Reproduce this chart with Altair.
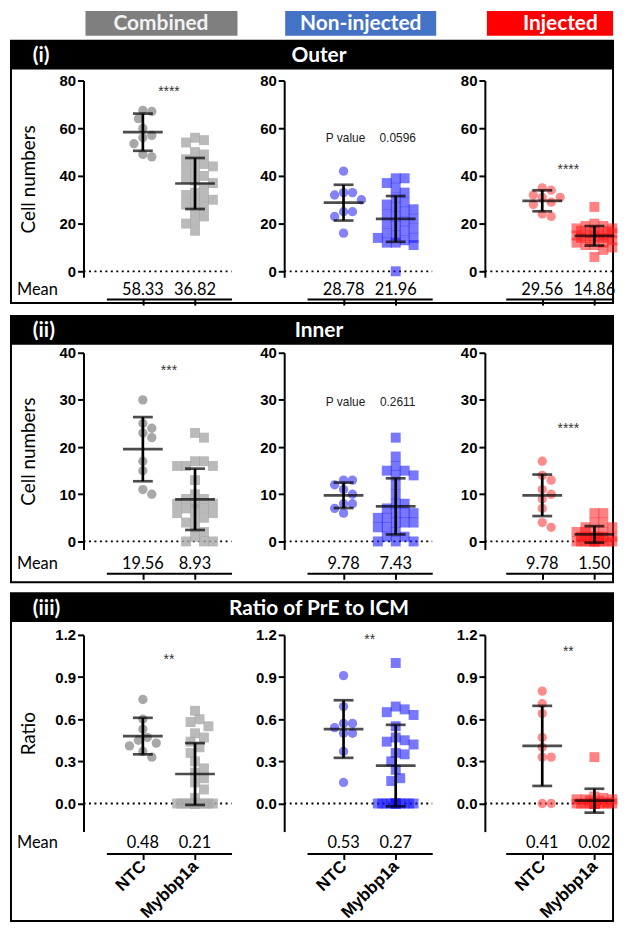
import math
import altair as alt
import pandas as pd

# ------------------------------------------------------------------ data
groups = ["NTC", "Mybbp1a"]
col_names = ["Combined", "Non-injected", "Injected"]
row_tags = ["(i)", "(ii)", "(iii)"]
row_titles = ["Outer", "Inner", "Ratio of PrE to ICM"]
y_titles = ["Cell numbers", "Cell numbers", "Ratio"]
y_ticks = [[0, 20, 40, 60, 80], [0, 10, 20, 30, 40], [0.0, 0.3, 0.6, 0.9, 1.2]]
y_domains = [[-2.5, 80], [-1.7, 40], [-0.2, 1.2]]

# Outer cells
outer_comb_ntc = [67.5, 67, 64, 60, 57, 56, 53.5, 48, 49]
outer_comb_myb = [56, 54, 55, 50, 49, 47, 46, 45, 44, 43, 42, 40, 39, 38, 37, 35,
                  33, 32, 31, 30, 29, 28, 27, 25, 23, 21, 20, 17]
outer_noninj_ntc = [42, 33, 33, 32, 30, 25, 25, 23, 16]
outer_noninj_myb = [39, 39, 37, 35, 33, 31, 29, 28, 27, 26, 25, 24, 23, 22, 21, 20,
                    19, 18, 17, 16, 15, 14, 14, 13, 12, 12, 11, 0]
outer_inj_ntc = [35, 34, 32, 31, 31, 29, 28, 24, 23]
outer_inj_myb = [27, 20, 19, 19, 18, 18, 17, 17, 17, 16, 16, 16, 15, 15, 15, 15,
                 14, 14, 14, 13, 13, 12, 12, 11, 11, 10, 9, 6]
# Inner cells
inner_comb_ntc = [30, 25, 24, 23, 22, 17, 15, 11, 10]
inner_comb_myb = [23, 22, 17, 17, 16, 16, 16, 13, 10, 9, 9, 8, 8, 8, 7, 7, 7, 6, 6,
                  5, 5, 4, 3, 2, 1, 0, 0, 0]
inner_noninj_ntc = [13, 13, 12, 11, 10, 8, 8, 7, 6]
inner_noninj_myb = [22, 18, 16, 15, 15, 14, 14, 12, 10, 8, 8, 7, 6, 6, 6, 5, 5, 4,
                    4, 4, 3, 3, 2, 1, 1, 0, 0, 0]
inner_inj_ntc = [17, 14, 13, 11, 10, 9, 7, 4, 3]
inner_inj_myb = [6, 6, 4, 4, 3, 3, 2, 2, 2, 2, 1, 1, 1, 1, 1, 1, 1, 0, 0, 0, 0, 0,
                 0, 0, 0, 0, 0, 0]
# Ratio of PrE to ICM
ratio_comb_ntc = [0.74, 0.6, 0.53, 0.47, 0.45, 0.43, 0.41, 0.37, 0.33]
ratio_comb_myb = [0.66, 0.6, 0.58, 0.55, 0.5, 0.47, 0.44, 0.4, 0.36, 0.3, 0.25,
                  0.22, 0.18, 0.15, 0.1, 0.04, 0, 0, 0, 0, 0, 0, 0, 0, 0, 0, 0, 0]
ratio_noninj_ntc = [0.91, 0.69, 0.57, 0.57, 0.54, 0.5, 0.5, 0.37, 0.15]
ratio_noninj_myb = [1.0, 0.69, 0.67, 0.65, 0.63, 0.55, 0.47, 0.45, 0.44, 0.42, 0.36,
                    0.35, 0.3, 0.24, 0.18, 0.16, 0, 0, 0, 0, 0, 0, 0, 0, 0, 0, 0, 0]
ratio_inj_ntc = [0.8, 0.71, 0.64, 0.47, 0.4, 0.33, 0.33, 0, 0]
ratio_inj_myb = [0.33, 0.05, 0.04, 0.03, 0.03, 0.03, 0.02, 0.02, 0.01, 0, 0, 0, 0,
                 0, 0, 0, 0, 0, 0, 0, 0, 0, 0, 0, 0, 0, 0, 0]

values = [
    [[outer_comb_ntc, outer_comb_myb], [outer_noninj_ntc, outer_noninj_myb],
     [outer_inj_ntc, outer_inj_myb]],
    [[inner_comb_ntc, inner_comb_myb], [inner_noninj_ntc, inner_noninj_myb],
     [inner_inj_ntc, inner_inj_myb]],
    [[ratio_comb_ntc, ratio_comb_myb], [ratio_noninj_ntc, ratio_noninj_myb],
     [ratio_inj_ntc, ratio_inj_myb]],
]

means = [[[58.33, 36.82], [28.78, 21.96], [29.56, 14.86]],
         [[19.56, 8.93], [9.78, 7.43], [9.78, 1.50]],
         [[0.48, 0.21], [0.53, 0.27], [0.41, 0.02]]]
sds = [[[7.8, 10.7], [7.5, 9.6], [4.4, 4.1]],
       [[6.8, 6.5], [2.7, 5.95], [4.4, 1.75]],
       [[0.13, 0.22], [0.205, 0.29], [0.285, 0.085]]]

# significance annotations: (kind, text, y-level in data units)
annots = [
    [("stars", "****", 75), ("p", "0.0596", 56), ("stars", "****", 42.5)],
    [("stars", "***", 36.2), ("p", "0.2611", 29.6), ("stars", "****", 23.8)],
    [("stars", "**", 1.02), ("stars", "**", 1.165), ("stars", "**", 1.08)],
]

# ------------------------------------------------------------------ styles
legend_fill = ["#7F7F7F", "#4472C4", "#FF0000"]
legend_text = ["#F2F2F2", "#FFFFFF", "#FFFFFF"]
pt_color = [["#A3A3A3", "#A9A9A9"], ["#4040F2", "#1515FF"], ["#FF4545", "#FF1A1A"]]
pt_opacity = [[0.95, 0.8], [0.65, 0.58], [0.62, 0.55]]

H = 198
PANEL_W = [149, 149, 129]
X_RNG = [[23, 149], [23, 149], [21, 129]]
PX_PER_X = 52.5
X_LEFT = -0.7

head_off = [40, 37, 42]
head_h = 29
border_bot = [224, 231, 288]
mean_y = [211, 213, 210]
xaxis_off = [22, 24, 22]
BL, BR = -73, 533
one = pd.DataFrame({"z": [0]})


def swarm(vals, ppu):
    """deterministic beeswarm offsets (pixels -> x units)"""
    D, step = 9.0, 4.5
    cands = [0.0]
    for k in range(1, 5):
        cands += [k * step, -k * step]
    order = sorted(range(len(vals)), key=lambda i: -vals[i])
    placed, offs = [], [0.0] * len(vals)
    for i in order:
        yp = vals[i] * ppu
        best, bestd = 0.0, -1.0
        for cnd in cands:
            dmin = min((math.hypot(cnd - px, yp - py) for px, py in placed), default=1e9)
            if dmin >= D:
                best = cnd
                break
            if dmin > bestd:
                bestd, best = dmin, cnd
        offs[i] = best
        placed.append((best, yp))
    return [o / PX_PER_X for o in offs]


def vrect(x1, x2, y1, y2, **mk):
    return alt.Chart(one).mark_rect(**mk).encode(
        x=alt.value(x1), x2=alt.value(x2), y=alt.value(y1), y2=alt.value(y2))


def vtext(t, x, y, **mk):
    return alt.Chart(pd.DataFrame({"t": [t]})).mark_text(**mk).encode(
        text="t:N", x=alt.value(x), y=alt.value(y))


def panel(r, c):
    dom = y_domains[r]
    ppu = H / (dom[1] - dom[0])
    W = PANEL_W[c]
    rng = X_RNG[c]
    xdom = [X_LEFT, X_LEFT + (rng[1] - rng[0]) / PX_PER_X]
    xs = alt.Scale(domain=xdom, range=rng, nice=False, zero=False)
    ys = alt.Scale(domain=dom, nice=False, zero=False)
    ax_kw = dict(values=[0, 1], offset=xaxis_off[r], tickSize=6, tickWidth=2,
                 domainWidth=2, domainColor="black", tickColor="black", grid=False)
    if r == 2:
        ax_kw.update(labels=True, labelExpr="datum.value == 0 ? 'NTC' : 'Mybbp1a'",
                     labelAngle=-45, labelAlign="right", labelBaseline="middle",
                     labelFont="Liberation Sans", labelFontWeight="bold",
                     labelFontSize=17, labelPadding=4, labelColor="black")
    else:
        ax_kw.update(labels=False)
    xaxis = alt.Axis(**ax_kw)
    yaxis = alt.Axis(values=y_ticks[r], format=".1f" if r == 2 else "d",
                     tickSize=6, tickWidth=2, domainWidth=2, domainColor="black",
                     tickColor="black", grid=False, labelFont="Liberation Sans",
                     labelFontWeight="bold", labelFontSize=15, labelColor="black",
                     labelPadding=2, titleFont="Lato", titleFontSize=19,
                     titleFontWeight="normal", titleColor="black", titleX=-55,
                     titleY=H / 2, titleAlign="center", titleBaseline="middle")
    ytitle = y_titles[r] if c == 0 else None

    def xq():
        return alt.X("x:Q", scale=xs, axis=xaxis, title=None)

    def yq(f):
        return alt.Y(f + ":Q", scale=ys, axis=yaxis, title=ytitle)

    layers = []
    if c == 0:
        layers.append(vrect(BL, BR, -head_off[r], border_bot[r], fillOpacity=0,
                            stroke="black", strokeWidth=2))
        layers.append(vrect(BL, BR, -head_off[r], -head_off[r] + head_h, color="black"))
        hy = -head_off[r] + head_h / 2 + 1
        layers.append(vtext(row_tags[r], -51, hy, align="left", baseline="middle",
                            font="Lato", fontWeight="bold", fontSize=21, color="white"))
        layers.append(vtext(row_titles[r], 237, hy, align="center", baseline="middle",
                            font="Lato", fontWeight="bold", fontSize=21, color="white"))
        layers.append(vtext("Mean", -67, mean_y[r], align="left", baseline="middle",
                            font="Lato", fontSize=16.5, color="black"))
        if r == 0:
            boxes = [(2, 155), (203, 355), (406, 533)]
            centers = [78, 279, 480]
            for k, (a, b) in enumerate(boxes):
                layers.append(vrect(a, b, -70, -45, color=legend_fill[k]))
                layers.append(vtext(col_names[k], centers[k], -57, align="center",
                                    baseline="middle", font="Lato", fontWeight="bold",
                                    fontSize=21, color=legend_text[k]))

    # dotted zero line
    layers.append(alt.Chart(one).mark_rule(strokeDash=[2, 3.5], strokeWidth=1.8,
                                           color="black").encode(
        y=yq("z"), x=alt.value(0), x2=alt.value(W)))

    # points
    shapes = ["circle", "square"]
    sizes = [88, 100]
    for g in range(2):
        vals = values[r][c][g]
        offs = swarm(vals, ppu)
        df = pd.DataFrame({"x": [g + o for o in offs], "v": vals})
        layers.append(alt.Chart(df).mark_point(
            filled=True, shape=shapes[g], size=sizes[g], color=pt_color[c][g],
            opacity=pt_opacity[c][g]).encode(x=xq(), y=yq("v")))

    # mean +/- SD
    m = means[r][c]
    s = sds[r][c]
    summ = pd.DataFrame({"x": [0, 1], "m": m,
                         "lo": [m[i] - s[i] for i in range(2)],
                         "hi": [m[i] + s[i] for i in range(2)],
                         "lab": [f"{v:.2f}" for v in m]})
    base = alt.Chart(summ)
    layers.append(base.mark_rule(strokeWidth=2.7, color="black").encode(
        x=xq(), y=yq("lo"), y2="hi:Q"))
    for f, size in (("lo", 20), ("hi", 20), ("m", 40)):
        layers.append(base.mark_tick(orient="horizontal", size=size, thickness=2.7,
                                     color="black").encode(x=xq(), y=yq(f)))
    layers.append(base.mark_text(font="Lato", fontSize=16.5, baseline="middle",
                                 color="black").encode(
        x=xq(), y=alt.value(mean_y[r]), text="lab:N"))

    # annotations
    kind, txt, yl = annots[r][c]
    if kind == "stars":
        adf = pd.DataFrame({"x": [0.5], "y": [yl], "t": [txt]})
        layers.append(alt.Chart(adf).mark_text(font="Liberation Sans", fontSize=14,
                                               color="#333333", baseline="middle").encode(
            x=xq(), y=yq("y"), text="t:N"))
    else:
        adf = pd.DataFrame({"x": [0, 1], "y": [yl, yl], "t": ["P value", txt]})
        layers.append(alt.Chart(adf).mark_text(font="Liberation Sans", fontSize=12,
                                               color="#222222", baseline="middle",
                                               dx=2).encode(
            x=xq(), y=yq("y"), text="t:N"))

    return alt.layer(*layers).properties(width=W, height=H)


rows = []
for r in range(3):
    rows.append(alt.hconcat(*[panel(r, c) for c in range(3)], spacing=53,
                            bounds="flush").resolve_scale(x="independent",
                                                          y="independent"))

chart = alt.vconcat(*rows, spacing=9).properties(
    padding={"left": 2, "top": 0, "right": 0, "bottom": 0}
).configure_view(stroke=None)

chart.save("out.html", embed_options={"renderer": "svg", "actions": False})
